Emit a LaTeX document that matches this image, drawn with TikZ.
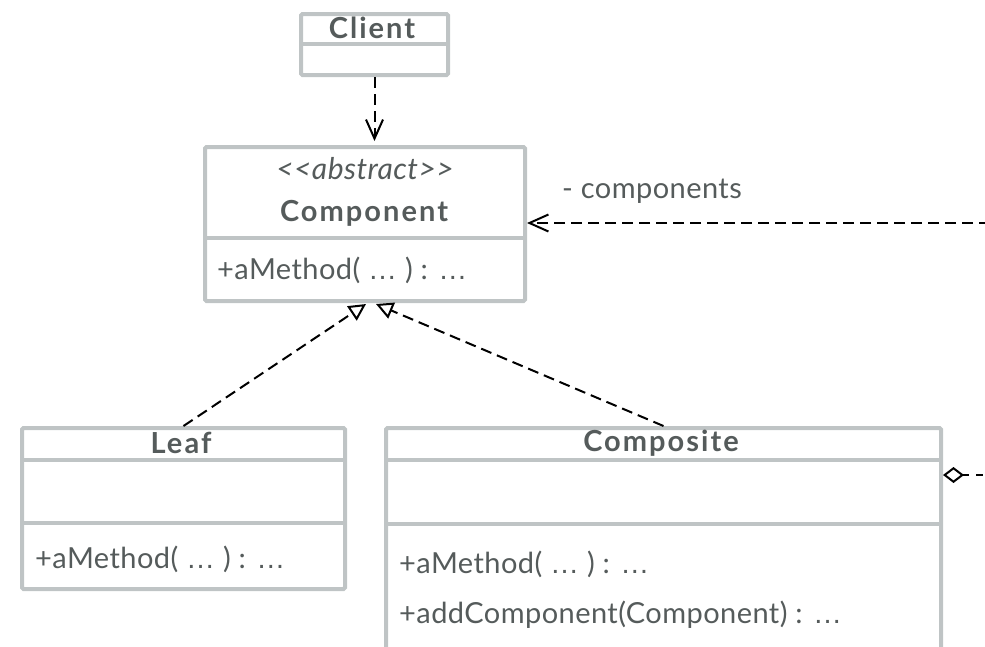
\documentclass[tikz,border=0pt]{standalone}
\usepackage{fontspec}
\setmainfont{Lato}[Ligatures=TeXOff,LetterSpace=1.5]
\newfontfamily\titlefont{Lato}[Ligatures=TeXOff,LetterSpace=7,UprightFont=*-Bold]
\newfontfamily\dotfont{Liberation Sans}
\newcommand{\el}{{\dotfont …}}
\usepackage{tikz}
\usetikzlibrary{arrows.meta}
\usetikzlibrary{positioning}
\definecolor{boxgray}{HTML}{BFC4C5}
\definecolor{textgray}{HTML}{555B5B}

\begin{document}
\begin{tikzpicture}[x=1pt,y=-1pt]
  \tikzset{umlbox/.style = {shape=rectangle,draw=boxgray,line width=4pt,rounded corners=1.5pt,inner sep=0pt,anchor=north west}}
  \tikzset{divider/.style = {draw=boxgray,line width=4pt}}
  \tikzset{classname/.style = {text=textgray,inner sep=0pt,font=\titlefont\fontsize{29}{32}\selectfont}}
  \tikzset{stereo/.style = {text=textgray,inner sep=0pt,font=\fontsize{30}{32}\selectfont\itshape}}
  \tikzset{member/.style = {text=textgray,inner sep=0pt,anchor=west,font=\fontsize{29}{32}\selectfont}}
  \tikzset{%
  openA/.tip={Straight Barb[length=19pt,width=17pt,line width=2pt]},
  realA/.tip={Triangle[open,length=17pt,width=17pt,line width=2pt]},
  aggrA/.tip={Diamond[open,length=21pt,width=16pt,line width=2pt]},
  }
  \tikzset{dep/.style = {draw=black,line width=2pt,dash pattern=on 11pt off 6pt,-openA}}
  \tikzset{realize/.style = {draw=black,line width=2pt,dash pattern=on 11pt off 6pt,-realA}}
  \tikzset{aggr/.style = {draw=black,line width=2pt,dash pattern=on 7pt off 7pt,aggrA-}}

  \useasboundingbox (0,0) rectangle (985,646);
  \clip (0,0) rectangle (985,646);

  % classes
  \node[umlbox, minimum width=147pt, minimum height=61pt] (client) at (299,12) {};
  \draw[divider] (client.west |- 0,44) -- (client.east |- 0,44);
  \node[classname] (clientname) at (372,28) {Client};

  \node[umlbox, minimum width=320pt, minimum height=154pt] (component) at (203,145) {};
  \draw[divider] (component.west |- 0,238) -- (component.east |- 0,238);
  \node[stereo] (abstract) at (365,169) {<<abstract>>};
  \node[classname] (componentname) at (364,213) {Component};
  \node[member] (componentop) at (217,270) {+aMethod( \el{} ) : \el};

  \node[umlbox, minimum width=323pt, minimum height=161pt] (leaf) at (20,426) {};
  \draw[divider] (leaf.west |- 0,460) -- (leaf.east |- 0,460);
  \draw[divider] (leaf.west |- 0,523) -- (leaf.east |- 0,523);
  \node[classname] (leafname) at (181,443) {Leaf};
  \node[member] (leafop) at (35,559) {+aMethod( \el{} ) : \el};

  \node[umlbox, minimum width=555pt, minimum height=280pt] (composite) at (384,426) {};
  \draw[divider] (composite.west |- 0,460) -- (composite.east |- 0,460);
  \draw[divider] (composite.west |- 0,524) -- (composite.east |- 0,524);
  \node[classname] (compositename) at (661,443) {Composite};
  \node[member] (compositeop) at (399,564) {+aMethod( \el{} ) : \el};
  \node[member] (compositeadd) at (399,615) {+addComponent(Component) : \el};

  % relations
  \coordinate (leaftip) at (366,304);
  \coordinate (compositetip) at (376,304);
  \coordinate (childrenend) at (990,223);
  \coordinate (ownerend) at (990,475);

  \draw[dep] (client.south) -- (client.south |- 0,141);
  \draw[dep] (childrenend) -- (component.east |- childrenend);
  \node[member] (childrenlabel) at (562,191) {- components};
  \draw[realize] (leaf.north) -- (leaftip);
  \draw[realize] (composite.north) -- (compositetip);
  \draw[aggr] (composite.east |- ownerend) -- (ownerend);

\end{tikzpicture}
\end{document}
